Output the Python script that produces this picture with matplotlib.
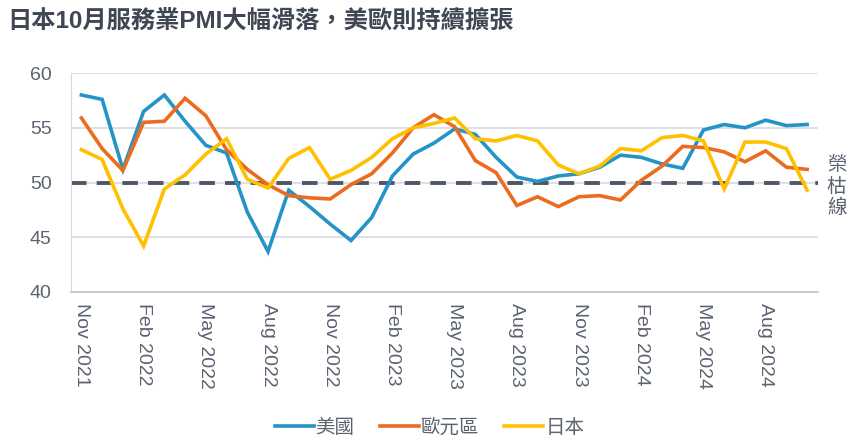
import matplotlib
matplotlib.use("Agg")
import matplotlib.pyplot as plt
import numpy as np

plt.rcParams['font.family'] = ['Liberation Sans', 'Noto Sans CJK TC', 'DejaVu Sans']

months = ['Nov 2021', 'Dec 2021', 'Jan 2022', 'Feb 2022', 'Mar 2022', 'Apr 2022',
          'May 2022', 'Jun 2022', 'Jul 2022', 'Aug 2022', 'Sep 2022', 'Oct 2022',
          'Nov 2022', 'Dec 2022', 'Jan 2023', 'Feb 2023', 'Mar 2023', 'Apr 2023',
          'May 2023', 'Jun 2023', 'Jul 2023', 'Aug 2023', 'Sep 2023', 'Oct 2023',
          'Nov 2023', 'Dec 2023', 'Jan 2024', 'Feb 2024', 'Mar 2024', 'Apr 2024',
          'May 2024', 'Jun 2024', 'Jul 2024', 'Aug 2024', 'Sep 2024', 'Oct 2024']

us = [58.0, 57.6, 51.2, 56.5, 58.0, 55.6, 53.4, 52.7, 47.3, 43.7, 49.3, 47.8,
      46.2, 44.7, 46.8, 50.6, 52.6, 53.6, 54.9, 54.4, 52.3, 50.5, 50.1, 50.6,
      50.8, 51.4, 52.5, 52.3, 51.7, 51.3, 54.8, 55.3, 55.0, 55.7, 55.2, 55.3]
ez = [55.9, 53.1, 51.1, 55.5, 55.6, 57.7, 56.1, 53.0, 51.2, 49.8, 48.8, 48.6,
      48.5, 49.8, 50.8, 52.7, 55.0, 56.2, 55.1, 52.0, 50.9, 47.9, 48.7, 47.8,
      48.7, 48.8, 48.4, 50.2, 51.5, 53.3, 53.2, 52.8, 51.9, 52.9, 51.4, 51.2]
jp = [53.0, 52.1, 47.6, 44.2, 49.4, 50.7, 52.6, 54.0, 50.3, 49.5, 52.2, 53.2,
      50.3, 51.1, 52.3, 54.0, 55.0, 55.4, 55.9, 54.0, 53.8, 54.3, 53.8, 51.6,
      50.8, 51.5, 53.1, 52.9, 54.1, 54.3, 53.8, 49.4, 53.7, 53.7, 53.1, 49.3]

series = [('美國', us, '#2494c6'), ('歐元區', ez, '#eb6c1e'), ('日本', jp, '#ffc000')]

text_color = '#5b6370'

fig = plt.figure(figsize=(8.59, 4.43), dpi=100)
ax = fig.add_axes([0.0827, 0.341, 0.869, 0.494])

x = np.arange(len(months))
for name, vals, color in series:
    ax.plot(x, vals, color=color, lw=2.6, label=name, solid_joinstyle='miter')

# 榮枯線
ax.axhline(50, color='#4f5666', lw=2.8, ls=(0, (4, 2.6)), zorder=1)

ax.set_xlim(-0.5, len(months) - 0.5)
ax.set_ylim(40, 60)
ax.set_yticks([40, 45, 50, 55, 60])
ax.yaxis.grid(True, color='#dcdde2', lw=1.3)
ax.set_axisbelow(True)
ax.set_xticks(x[::3])
ax.set_xticklabels([months[i] for i in range(0, len(months), 3)], rotation=270)
ax.tick_params(axis='both', length=0, labelsize=14, colors=text_color)
ax.tick_params(axis='x', pad=8)
ax.tick_params(axis='y', pad=14)
for s in ['top', 'right']:
    ax.spines[s].set_visible(False)
ax.spines['left'].set_color('#d9d9d9')
ax.spines['bottom'].set_color('#c8c8c8')
ax.spines['bottom'].set_linewidth(1.3)

fig.text(0.974, 0.58, '榮\n枯\n線', fontsize=14, color=text_color,
         ha='center', va='center', linespacing=1.05, family=['Noto Sans CJK TC'])

fig.text(0.009, 0.952, '日本10月服務業PMI大幅滑落，美歐則持續擴張', fontsize=17.5,
         fontweight='bold', color='#404754', ha='left', va='center',
         family=['Liberation Sans', 'Noto Sans CJK TC'])

fig.legend(loc='center', bbox_to_anchor=(0.5, 0.035), ncol=3, frameon=False,
           handlelength=2.0, handletextpad=0.1, columnspacing=1.3,
           labelcolor=text_color, prop={'family': ['Noto Sans CJK TC'], 'size': 14})

fig.savefig('out.png', dpi=100)
